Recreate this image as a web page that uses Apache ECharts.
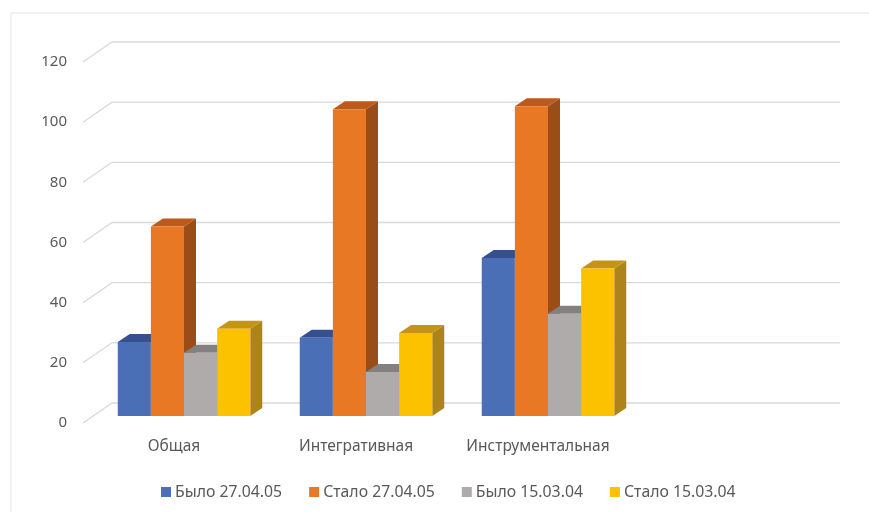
<!DOCTYPE html>
<html>
<head>
<meta charset="utf-8">
<script src="https://cdn.jsdelivr.net/npm/echarts@6/dist/echarts.min.js"></script>
<style>
  html, body { margin: 0; padding: 0; background: #fff; }
  #chart { width: 869px; height: 512px; }
</style>
</head>
<body>
<div id="chart"></div>
<script>
// категории (4-й слот пустой, как в исходной диаграмме)
var categories = ['Общая', 'Интегративная', 'Инструментальная', ''];
var seriesNames = ['Было 27.04.05', 'Стало 27.04.05', 'Было 15.03.04', 'Стало 15.03.04'];
var bylo050427 = [24.6, 26, 52.5];
var stalo050427 = [63, 102, 103];
var bylo040315 = [21, 14.6, 34];
var stalo040315 = [29, 27.6, 49];
var yTicks = [0, 20, 40, 60, 80, 100, 120];

// цвета: лицевая грань, верх, бок
var faces = [
  { front: '#4a6fb6', top: '#34508f', side: '#2f4a86' },
  { front: '#e97824', top: '#bd5a1b', side: '#9b4d18' },
  { front: '#aeabaa', top: '#858080', side: '#7d7a78' },
  { front: '#fcc200', top: '#c49512', side: '#ad8419' }
];
var wallDepth = [29, -20];   // смещение задней стенки
var barShift = [10, -7];     // смещение лицевой грани столбиков
var barDepth = [12, -8];     // глубина столбика
var barFrac = 0.182;         // ширина столбика от ширины категории

var chart = echarts.init(document.getElementById('chart'));

function gridRender(params, api) {
  var p = api.coord([0, api.value(1)]);
  var band = api.size([1, 0])[0];
  var x0 = p[0] - band / 2;
  var x1 = x0 + band * 4;
  var y = p[1];
  return {
    type: 'polyline',
    shape: { points: [[x0, y], [x0 + wallDepth[0], y + wallDepth[1]], [x1 + wallDepth[0], y + wallDepth[1]]] },
    style: { stroke: '#d9d9d9', lineWidth: 1.3, fill: null },
    silent: true
  };
}

function makeBarRender(si) {
  return function (params, api) {
    var cat = api.value(0);
    var val = api.value(1);
    var top = api.coord([cat, val]);
    var base = api.coord([cat, 0]);
    var band = api.size([1, 0])[0];
    var bw = band * barFrac;
    var xl = top[0] + (si - 2) * bw + barShift[0];
    var xr = xl + bw;
    var yt = top[1] + barShift[1];
    var yb = base[1] + barShift[1];
    var dx = barDepth[0], dy = barDepth[1];
    var c = faces[si];
    return {
      type: 'group',
      children: [
        { type: 'polygon', shape: { points: [[xr, yt], [xr + dx, yt + dy], [xr + dx, yb + dy], [xr, yb]] }, style: { fill: c.side } },
        { type: 'polygon', shape: { points: [[xl, yt], [xl + dx, yt + dy], [xr + dx, yt + dy], [xr, yt]] }, style: { fill: c.top } },
        { type: 'rect', shape: { x: xl, y: yt, width: bw, height: yb - yt }, style: { fill: c.front } }
      ]
    };
  };
}

var allValues = [bylo050427, stalo050427, bylo040315, stalo040315];
var series = [{
  type: 'custom',
  name: '_grid',
  renderItem: gridRender,
  data: yTicks.map(function (v) { return [0, v]; }),
  silent: true,
  z: 1
}];
allValues.forEach(function (vals, si) {
  series.push({
    type: 'custom',
    name: seriesNames[si],
    renderItem: makeBarRender(si),
    itemStyle: { color: faces[si].front },
    data: vals.map(function (v, i) { return [i, v]; }),
    z: 2 + si
  });
});

chart.setOption({
  animation: false,
  textStyle: { fontFamily: 'Noto Sans' },
  graphic: [{
    type: 'rect',
    shape: { x: 11, y: 13, width: 900, height: 600 },
    style: { fill: null, stroke: '#e3e3e3', lineWidth: 1 },
    silent: true
  }],
  grid: { left: 83, right: 58, top: 62, bottom: 89 },
  xAxis: {
    type: 'category',
    data: categories,
    axisLine: { show: false },
    axisTick: { show: false },
    axisLabel: { color: '#595959', fontSize: 15.5, margin: 16, interval: 0 },
    splitLine: { show: false }
  },
  yAxis: {
    type: 'value',
    min: 0, max: 120, interval: 20,
    axisLine: { show: false },
    axisTick: { show: false },
    axisLabel: { color: '#595959', fontSize: 15, margin: 16 },
    splitLine: { show: false }
  },
  legend: {
    data: seriesNames,
    left: 156,
    top: 479,
    icon: 'rect',
    itemWidth: 10,
    itemHeight: 10,
    itemGap: 27,
    textStyle: { color: '#595959', fontSize: 15.8, padding: [0, 0, 0, -1] }
  },
  series: series
});
</script>
</body>
</html>
